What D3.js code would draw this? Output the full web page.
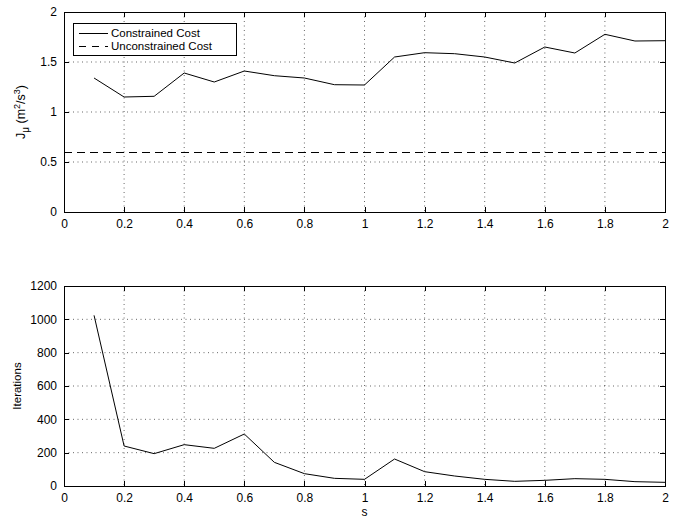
<!DOCTYPE html>
<html>
<head>
<meta charset="utf-8">
<script src="https://cdn.jsdelivr.net/npm/d3@7"></script>
<style>
  body { margin: 0; background: #fff; }
  svg text { font-family: "Liberation Sans", Arial, sans-serif; }
</style>
</head>
<body>
<svg id="chart" width="682" height="518"></svg>
<script>
// data
const sValues = [0.1, 0.2, 0.3, 0.4, 0.5, 0.6, 0.7, 0.8, 0.9, 1.0,
                 1.1, 1.2, 1.3, 1.4, 1.5, 1.6, 1.7, 1.8, 1.9, 2.0];
const constrainedCost = [1.34, 1.15, 1.157, 1.39, 1.30, 1.41, 1.363, 1.34, 1.273, 1.27,
                         1.55, 1.593, 1.583, 1.55, 1.49, 1.65, 1.59, 1.777, 1.71, 1.713];
const unconstrainedCost = 0.6;
const iterations = [1024, 240, 194, 248, 226, 312, 142, 74, 46, 40,
                    162, 86, 60, 40, 28, 34, 44, 40, 26, 22];
const xTicks = [0, 0.2, 0.4, 0.6, 0.8, 1, 1.2, 1.4, 1.6, 1.8, 2];
const costTicks = [0, 0.5, 1, 1.5, 2];
const iterTicks = [0, 200, 400, 600, 800, 1000, 1200];
const legendLabels = ["Constrained Cost", "Unconstrained Cost"];

const svg = d3.select("#chart");
const left = 64, right = 665;
const fontSize = 12;

function panel(top, bottom, yDomain, yTicks) {
  const x = d3.scaleLinear().domain([0, 2]).range([left, right]);
  const y = d3.scaleLinear().domain(yDomain).range([bottom, top]);
  const g = svg.append("g");

  // dotted grid
  g.selectAll(".gx").data(xTicks.slice(1, -1)).enter().append("line")
    .attr("x1", d => x(d)).attr("x2", d => x(d))
    .attr("y1", top).attr("y2", bottom)
    .attr("stroke", "#000").attr("stroke-width", 0.6).attr("stroke-dasharray", "1,3.5");
  g.selectAll(".gy").data(yTicks.slice(1, -1)).enter().append("line")
    .attr("x1", left).attr("x2", right)
    .attr("y1", d => y(d)).attr("y2", d => y(d))
    .attr("stroke", "#000").attr("stroke-width", 0.6).attr("stroke-dasharray", "1,3.5");

  const fmt = d => String(d);
  const styleAxis = a => {
    a.select(".domain").remove();
    a.selectAll("line").attr("stroke", "#000").attr("shape-rendering", "crispEdges");
    a.selectAll("text").attr("font-size", fontSize).attr("fill", "#000");
  };
  g.append("g").attr("transform", `translate(0,${bottom})`)
    .call(d3.axisBottom(x).tickValues(xTicks).tickFormat(fmt).tickSizeInner(-5).tickPadding(7))
    .call(styleAxis);
  g.append("g").attr("transform", `translate(0,${top})`)
    .call(d3.axisTop(x).tickValues(xTicks).tickFormat("").tickSizeInner(-5))
    .call(styleAxis);
  g.append("g").attr("transform", `translate(${left},0)`)
    .call(d3.axisLeft(y).tickValues(yTicks).tickFormat(fmt).tickSizeInner(-5).tickPadding(7))
    .call(styleAxis);
  g.append("g").attr("transform", `translate(${right},0)`)
    .call(d3.axisRight(y).tickValues(yTicks).tickFormat("").tickSizeInner(-5))
    .call(styleAxis);

  g.append("rect").attr("x", left).attr("y", top)
    .attr("width", right - left).attr("height", bottom - top)
    .attr("fill", "none").attr("stroke", "#000").attr("stroke-width", 1)
    .attr("shape-rendering", "crispEdges");
  return { x, y, g };
}

// top panel: cost
const p1 = panel(12, 212, [0, 2], costTicks);
const line1 = d3.line().x((d, i) => p1.x(sValues[i])).y(d => p1.y(d));
p1.g.append("path").datum(constrainedCost).attr("d", line1)
  .attr("fill", "none").attr("stroke", "#000").attr("stroke-width", 1);
p1.g.append("line")
  .attr("x1", p1.x(0)).attr("x2", p1.x(2))
  .attr("y1", p1.y(unconstrainedCost)).attr("y2", p1.y(unconstrainedCost))
  .attr("stroke", "#000").attr("stroke-width", 1).attr("stroke-dasharray", "8,5")
  .attr("shape-rendering", "crispEdges");

svg.append("text")
  .attr("transform", `translate(25,${p1.y(1)}) rotate(-90)`)
  .attr("text-anchor", "middle").attr("font-size", 12.5)
  .html('J<tspan dy="4" font-size="10">μ</tspan><tspan dy="-4"> (m</tspan><tspan dy="-5" font-size="9">2</tspan><tspan dy="5">/s</tspan><tspan dy="-5" font-size="9">3</tspan><tspan dy="5">)</tspan>');

// legend
const lg = svg.append("g").attr("transform", "translate(73,23)");
lg.append("rect").attr("width", 163).attr("height", 32)
  .attr("fill", "#fff").attr("stroke", "#000").attr("stroke-width", 1)
  .attr("shape-rendering", "crispEdges");
const dashes = [null, "7,6"];
legendLabels.forEach((t, i) => {
  const yy = 10 + i * 13;
  lg.append("line").attr("x1", 6).attr("x2", 35).attr("y1", yy).attr("y2", yy)
    .attr("stroke", "#000").attr("stroke-width", 1)
    .attr("stroke-dasharray", dashes[i]).attr("shape-rendering", "crispEdges");
  lg.append("text").attr("x", 38).attr("y", yy + 4).attr("font-size", 11.5).text(t);
});

// bottom panel: iterations
const p2 = panel(286, 486, [0, 1200], iterTicks);
const line2 = d3.line().x((d, i) => p2.x(sValues[i])).y(d => p2.y(d));
p2.g.append("path").datum(iterations).attr("d", line2)
  .attr("fill", "none").attr("stroke", "#000").attr("stroke-width", 1);

svg.append("text")
  .attr("transform", `translate(21,${p2.y(600)}) rotate(-90)`)
  .attr("text-anchor", "middle").attr("font-size", 11.5).text("Iterations");
svg.append("text").attr("x", p2.x(1)).attr("y", 516)
  .attr("text-anchor", "middle").attr("font-size", 12).text("s");
</script>
</body>
</html>
